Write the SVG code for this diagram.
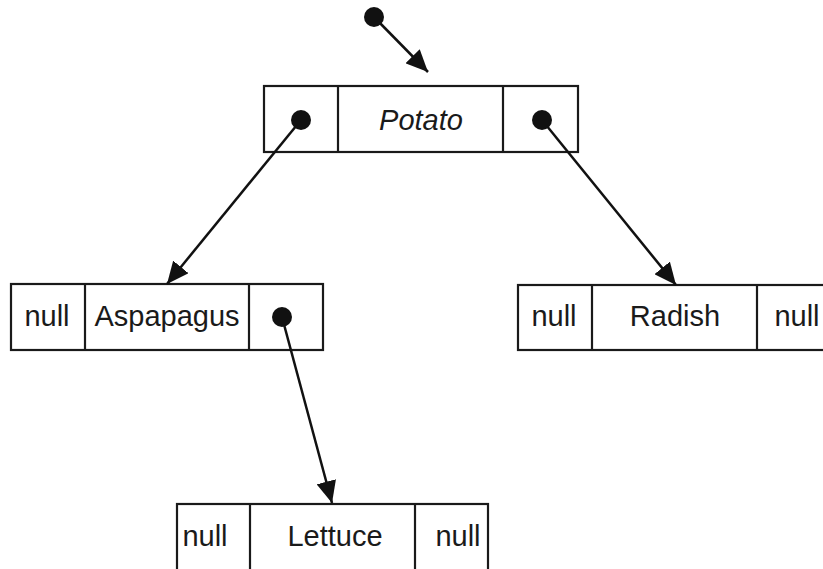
<svg xmlns="http://www.w3.org/2000/svg" width="823" height="569" viewBox="0 0 823 569">
<defs>
<style>
.box{fill:#fff;stroke:#1a1a1a;stroke-width:2.2}
.div{stroke:#1a1a1a;stroke-width:2.2}
.t{font-family:"Liberation Sans",Arial,sans-serif;font-size:29px;fill:#1a1a1a;text-anchor:middle}
.it{font-style:italic}
.dot{fill:#111}
.ln{stroke:#111;stroke-width:2.5;fill:none;marker-end:url(#ah)}
</style>
<marker id="ah" markerUnits="userSpaceOnUse" markerWidth="24" markerHeight="20" refX="22" refY="10" orient="auto">
<path d="M0,0 L22,10 L0,20 Z" fill="#111"/>
</marker>
</defs>
<rect width="823" height="569" fill="#fff"/>
<g id="potato">
<rect class="box" x="264" y="86" width="314" height="66"/>
<line class="div" x1="338" y1="86" x2="338" y2="152"/>
<line class="div" x1="503" y1="86" x2="503" y2="152"/>
<text class="t it" x="421" y="130">Potato</text>
</g>
<g id="aspapagus">
<rect class="box" x="11" y="284" width="312" height="66"/>
<line class="div" x1="85" y1="284" x2="85" y2="350"/>
<line class="div" x1="249" y1="284" x2="249" y2="350"/>
<text class="t" x="47" y="326">null</text>
<text class="t" x="167" y="326">Aspapagus</text>
</g>
<g id="radish">
<rect class="box" x="518" y="285" width="320" height="65"/>
<line class="div" x1="592" y1="285" x2="592" y2="350"/>
<line class="div" x1="757" y1="285" x2="757" y2="350"/>
<text class="t" x="554" y="326">null</text>
<text class="t" x="675" y="326">Radish</text>
<text class="t" x="797" y="326">null</text>
</g>
<g id="lettuce">
<rect class="box" x="177" y="504" width="311" height="70"/>
<line class="div" x1="250" y1="504" x2="250" y2="574"/>
<line class="div" x1="415" y1="504" x2="415" y2="574"/>
<text class="t" x="205" y="546">null</text>
<text class="t" x="335" y="546">Lettuce</text>
<text class="t" x="458" y="546">null</text>
</g>
<g id="connectors">
<line class="ln" x1="374" y1="17" x2="428" y2="72"/>
<line class="ln" x1="301" y1="120" x2="167" y2="284"/>
<line class="ln" x1="542" y1="120" x2="676" y2="285"/>
<line class="ln" x1="282" y1="317" x2="332" y2="503"/>
<circle class="dot" cx="374" cy="17" r="10"/>
<circle class="dot" cx="301" cy="120" r="10"/>
<circle class="dot" cx="542" cy="120" r="10"/>
<circle class="dot" cx="282" cy="317" r="10"/>
</g>
</svg>
